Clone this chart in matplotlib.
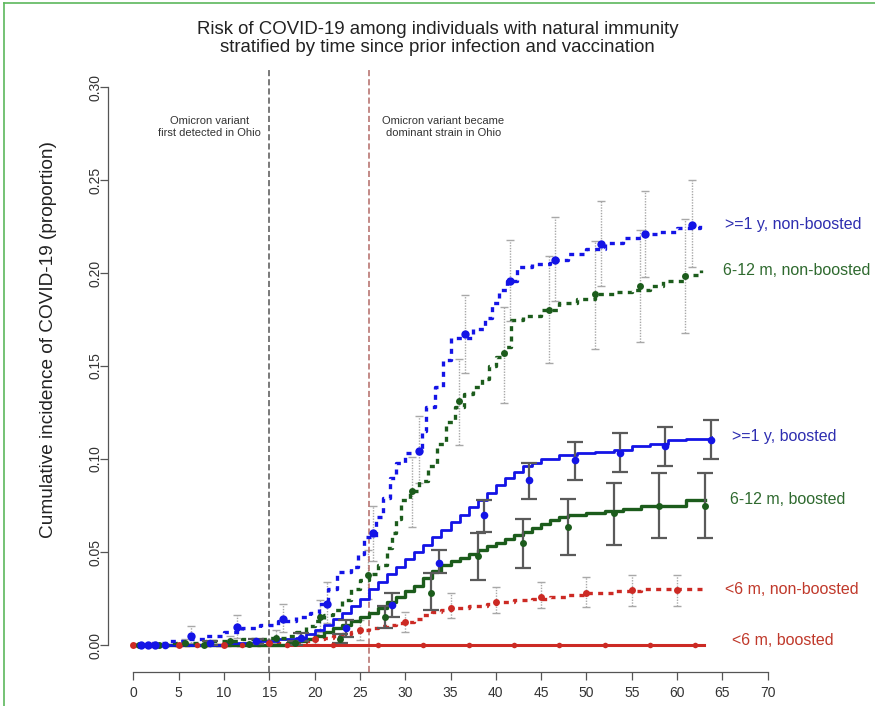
"""
Cumulative incidence of COVID-19 among individuals with natural immunity,
stratified by time since prior infection and booster status.
"""

import matplotlib
matplotlib.use('Agg')
import matplotlib.pyplot as plt
from matplotlib.lines import Line2D

plt.rcParams['font.family'] = ['Liberation Sans', 'DejaVu Sans']

# ---------------------------------------------------------------------------
# Data (x = days, y = cumulative proportion)
# ---------------------------------------------------------------------------

# >=1 y, non-boosted (blue, dotted)
bnb_step_x = [0, 2, 4, 6, 8, 10, 12, 14, 16, 18, 19.5, 20.5, 21.5, 22.5, 24, 24.8, 25.5, 26.8,
              27.5, 28.3, 29, 30, 31.8, 32.3, 33.3, 34.2, 35, 37.5, 38.8, 39.6, 40.3, 41.2,
              42.3, 44, 46, 48, 50, 52, 54, 56, 58, 60, 62.5]
bnb_step_y = [0, 0.001, 0.002, 0.003, 0.005, 0.007, 0.009, 0.011, 0.013, 0.015, 0.017, 0.022,
              0.030, 0.039, 0.042, 0.049, 0.058, 0.069, 0.079, 0.090, 0.098, 0.103, 0.115,
              0.128, 0.139, 0.153, 0.165, 0.170, 0.176, 0.184, 0.191, 0.196, 0.203, 0.205,
              0.207, 0.210, 0.213, 0.216, 0.219, 0.221, 0.222, 0.224, 0.226]
bnb_pt_x = [0.8, 1.6, 2.4, 6.4, 11.4, 16.5, 21.4, 26.5, 31.5, 36.6, 41.6, 46.5, 51.6, 56.5, 61.6]
bnb_pt_y = [0, 0, 0, 0.005, 0.0095, 0.014, 0.022, 0.060, 0.1045, 0.167, 0.196, 0.207, 0.2156,
            0.2208, 0.226]
bnb_lo = [0, 0, 0, 0.001, 0.004, 0.007, 0.012, 0.045, 0.087, 0.146, 0.174, 0.185, 0.193,
          0.198, 0.203]
bnb_hi = [0, 0, 0, 0.010, 0.016, 0.022, 0.034, 0.075, 0.123, 0.188, 0.218, 0.230, 0.239,
          0.244, 0.250]

# 6-12 m, non-boosted (green, dotted)
gnb_step_x = [0, 4, 8, 12, 15, 17, 18, 19, 20, 21, 22, 23, 24, 25, 26, 27, 28, 28.5, 29, 29.5,
              30.5, 31.5, 32.5, 33.5, 34.5, 35.5, 36.5, 37.5, 38.5, 39.3, 40, 41, 41.7, 43,
              45, 47, 49, 51, 53, 55, 57, 58.5, 61, 62.7]
gnb_step_y = [0, 0.001, 0.002, 0.003, 0.004, 0.005, 0.007, 0.010, 0.013, 0.016, 0.019, 0.024,
              0.030, 0.035, 0.038, 0.043, 0.052, 0.060, 0.068, 0.078, 0.083, 0.088, 0.096,
              0.108, 0.120, 0.128, 0.135, 0.139, 0.143, 0.150, 0.155, 0.160, 0.175, 0.177,
              0.180, 0.184, 0.186, 0.189, 0.190, 0.191, 0.193, 0.196, 0.199, 0.2016]
gnb_pt_x = [0.6, 5.7, 10.7, 15.7, 20.6, 25.9, 30.8, 35.9, 40.9, 45.9, 50.9, 55.9, 60.9]
gnb_pt_y = [0, 0.001, 0.002, 0.004, 0.015, 0.0376, 0.0828, 0.131, 0.157, 0.180, 0.1886,
            0.193, 0.1986]
gnb_lo = [0, 0, 0, 0.001, 0.007, 0.025, 0.0636, 0.1075, 0.130, 0.1514, 0.159, 0.163, 0.168]
gnb_hi = [0, 0.003, 0.005, 0.008, 0.024, 0.051, 0.1013, 0.154, 0.182, 0.209, 0.217, 0.223, 0.229]

# >=1 y, boosted (blue, solid)
bb_step_x = [0, 10, 14, 16, 18, 19, 20, 21, 22, 23, 24, 25, 26, 27, 28, 29, 30, 31, 32, 33,
             34, 35, 36, 37, 38, 39, 40, 41, 42, 43, 44, 45, 47, 49, 51, 53, 55, 57, 59, 61,
             63.7]
bb_step_y = [0, 0.001, 0.002, 0.003, 0.004, 0.006, 0.008, 0.011, 0.014, 0.017, 0.021, 0.025,
             0.030, 0.034, 0.038, 0.042, 0.046, 0.050, 0.054, 0.058, 0.062, 0.066, 0.070,
             0.074, 0.078, 0.082, 0.086, 0.090, 0.093, 0.096, 0.098, 0.100, 0.102, 0.103,
             0.104, 0.105, 0.107, 0.108, 0.110, 0.111, 0.112]
bb_pt_x = [3.5, 8.5, 13.5, 18.5, 23.5, 28.5, 33.7, 38.7, 43.7, 48.7, 53.7, 58.7, 63.7]
bb_pt_y = [0, 0.001, 0.002, 0.004, 0.009, 0.0215, 0.0443, 0.070, 0.0887, 0.0995, 0.1034,
           0.107, 0.1105]
bb_lo = [0, 0, 0.0005, 0.002, 0.0045, 0.015, 0.0385, 0.061, 0.0785, 0.089, 0.0928, 0.0962,
         0.0998]
bb_hi = [0, 0.002, 0.0035, 0.0065, 0.0134, 0.028, 0.051, 0.078, 0.0977, 0.1093, 0.1138,
         0.117, 0.121]

# 6-12 m, boosted (green, solid)
gb_step_x = [0, 17, 18, 19, 20, 21, 22, 23, 24, 25, 26, 27, 28, 29, 30, 31, 32, 33, 34, 35,
             36, 37, 38, 39, 40, 41, 42, 43, 44, 45, 46, 47, 48, 50, 52, 54, 56, 61, 63.1]
gb_step_y = [0, 0.001, 0.002, 0.003, 0.005, 0.007, 0.009, 0.011, 0.013, 0.015, 0.017, 0.020,
             0.023, 0.026, 0.029, 0.032, 0.036, 0.040, 0.043, 0.045, 0.047, 0.049, 0.051,
             0.053, 0.055, 0.057, 0.059, 0.061, 0.063, 0.065, 0.067, 0.069, 0.070, 0.071,
             0.072, 0.073, 0.0745, 0.078, 0.078]
gb_pt_x = [2.8, 7.8, 12.8, 17.8, 22.8, 27.8, 32.9, 38.0, 43.0, 48.0, 53.0, 58.0, 63.1]
gb_pt_y = [0, 0, 0.0005, 0.001, 0.003, 0.015, 0.0278, 0.0478, 0.0547, 0.0637, 0.0708,
           0.0747, 0.0747]
gb_lo = [0, 0, 0, 0, 0.001, 0.009, 0.0188, 0.035, 0.0412, 0.0484, 0.0538, 0.0577, 0.0577]
gb_hi = [0, 0, 0.001, 0.002, 0.006, 0.021, 0.0389, 0.060, 0.068, 0.0785, 0.087, 0.0927, 0.0927]

# <6 m, non-boosted (red, dotted)
rnb_step_x = [0, 14, 16, 18, 19, 20, 21, 22, 23, 24, 25, 26, 27, 28, 29, 30, 31, 32, 33, 34,
              35, 37, 39, 40, 42, 44, 46, 48, 50, 53, 56, 63]
rnb_step_y = [0, 0.0005, 0.001, 0.0015, 0.002, 0.003, 0.004, 0.005, 0.006, 0.007, 0.008,
              0.009, 0.010, 0.011, 0.012, 0.0125, 0.014, 0.016, 0.018, 0.019, 0.020, 0.021,
              0.022, 0.0233, 0.024, 0.025, 0.026, 0.027, 0.028, 0.029, 0.030, 0.030]
rnb_pt_x = [0, 5, 10, 15, 20, 25, 30, 35, 40, 45, 50, 55, 60]
rnb_pt_y = [0, 0, 0, 0.001, 0.003, 0.008, 0.0125, 0.020, 0.0233, 0.026, 0.028, 0.0296, 0.0296]
rnb_lo = [0, 0, 0, 0, 0.0005, 0.0027, 0.007, 0.0143, 0.0174, 0.0197, 0.0206, 0.021, 0.021]
rnb_hi = [0, 0.001, 0.001, 0.003, 0.006, 0.0134, 0.018, 0.0278, 0.031, 0.034, 0.0367,
          0.0376, 0.0376]

# <6 m, boosted (red, solid) - no events
rb_step_x = [0, 63]
rb_step_y = [0, 0]
rb_pt_x = [2, 7, 12, 17, 22, 27, 32, 37, 42, 47, 52, 57, 62]
rb_pt_y = [0, 0, 0, 0, 0, 0, 0, 0, 0, 0, 0, 0, 0]

series_labels = ['>=1 y, non-boosted', '6-12 m, non-boosted', '>=1 y, boosted',
                 '6-12 m, boosted', '<6 m, non-boosted', '<6 m, boosted']

x_ticks = list(range(0, 75, 5))
y_ticks = [0.00, 0.05, 0.10, 0.15, 0.20, 0.25, 0.30]

omicron_first_day = 15
omicron_dominant_day = 26

BLUE = '#1414e6'
GREEN = '#1c5c1c'
RED = '#cc2a24'


def draw_bars(ax, x, lo, hi, boosted):
    """Confidence interval whiskers: solid grey for boosted, dotted light grey otherwise"""
    keep = [i for i in range(len(x)) if hi[i] - lo[i] > 0.0015]
    bx = [x[i] for i in keep]
    mid = [(lo[i] + hi[i]) / 2 for i in keep]
    err = [[(hi[i] - lo[i]) / 2 for i in keep], [(hi[i] - lo[i]) / 2 for i in keep]]
    if boosted:
        eb = ax.errorbar(bx, mid, yerr=err, fmt='none', ecolor='#5a5a5a', elinewidth=1.6,
                         capsize=6, capthick=1.6, zorder=4)
    else:
        eb = ax.errorbar(bx, mid, yerr=err, fmt='none', ecolor='#a8a8a8', elinewidth=1.0,
                         capsize=3, capthick=1.0, zorder=1)
        eb[2][0].set_linestyle((0, (1, 1)))


def draw_curve(ax, sx, sy, px, py, color, dotted, lw=2.2, ms=5):
    if dotted:
        ax.plot(sx, sy, drawstyle='steps-post', color=color, lw=lw,
                linestyle=(0, (1.5, 1.6)), dash_capstyle='butt', zorder=3)
    else:
        ax.plot(sx, sy, drawstyle='steps-post', color=color, lw=lw, zorder=3)
    ax.plot(px, py, 'o', color=color, ms=ms, zorder=5, markeredgewidth=0)


def main():
    fig = plt.figure(figsize=(8.75, 7.06), dpi=100)
    W, H = 875, 706
    ax = fig.add_axes([108 / W, 1 - 672 / H, (793 - 108) / W, (672 - 67) / H])

    # error bars first so that they sit behind the curves
    draw_bars(ax, bnb_pt_x, bnb_lo, bnb_hi, False)
    draw_bars(ax, gnb_pt_x, gnb_lo, gnb_hi, False)
    draw_bars(ax, rnb_pt_x, rnb_lo, rnb_hi, False)

    draw_curve(ax, rb_step_x, rb_step_y, rb_pt_x, rb_pt_y, RED, False, lw=2.2, ms=4)
    draw_curve(ax, rnb_step_x, rnb_step_y, rnb_pt_x, rnb_pt_y, RED, True, lw=2.4, ms=5)
    draw_curve(ax, gb_step_x, gb_step_y, gb_pt_x, gb_pt_y, GREEN, False, lw=2.4, ms=5)
    draw_curve(ax, bb_step_x, bb_step_y, bb_pt_x, bb_pt_y, BLUE, False, lw=2.0, ms=5.5)
    draw_curve(ax, gnb_step_x, gnb_step_y, gnb_pt_x, gnb_pt_y, GREEN, True, lw=2.4, ms=5)
    draw_curve(ax, bnb_step_x, bnb_step_y, bnb_pt_x, bnb_pt_y, BLUE, True, lw=2.4, ms=6)

    draw_bars(ax, bb_pt_x, bb_lo, bb_hi, True)
    draw_bars(ax, gb_pt_x, gb_lo, gb_hi, True)

    # Omicron milestones
    ax.axvline(omicron_first_day, color='#555555', lw=1.1, linestyle=(0, (4, 2)), zorder=2)
    ax.axvline(omicron_dominant_day, color='#b36a66', lw=1.1, linestyle=(0, (4, 2)), zorder=2)
    note_font = ['Liberation Sans Narrow', 'Liberation Sans', 'DejaVu Sans']
    ax.text(8.4, 0.2785, 'Omicron variant\nfirst detected in Ohio', ha='center', va='center',
            fontsize=8, color='#333333', family=note_font, linespacing=1.25)
    ax.text(34.2, 0.2785, 'Omicron variant became\ndominant strain in Ohio', ha='center',
            va='center', fontsize=8, color='#333333', family=note_font, linespacing=1.25)

    # series labels at the right end of each curve
    label_pos = [(65.3, bnb_step_y[-1]), (65.05, gnb_step_y[-1]), (66.1, bb_step_y[-1]),
                 (65.8, gb_step_y[-1]), (65.3, rnb_step_y[-1]), (66.1, 0.0027)]
    label_colors = ['#2e2eb0', '#2f6a2f', '#2e2eb0', '#2f6a2f', '#c0392b', '#c0392b']
    for text, (lx, ly), c in zip(series_labels, label_pos, label_colors):
        ax.text(lx, ly, text, color=c, fontsize=11.5, va='center', ha='left', clip_on=False)

    # R-style axes: spines limited to the tick range
    ax.set_xlim(-2.8, 72.8)
    ax.set_ylim(-0.0145, 0.3108)
    for side in ['top', 'right']:
        ax.spines[side].set_visible(False)
    ax.spines['left'].set_bounds(0, 0.30)
    ax.spines['bottom'].set_bounds(0, 70)
    for side in ['left', 'bottom']:
        ax.spines[side].set_color('#555555')
        ax.spines[side].set_linewidth(0.9)
    ax.set_xticks(x_ticks)
    ax.set_xticklabels([str(t) for t in x_ticks])
    ax.set_yticks(y_ticks)
    ax.set_yticklabels([f'{t:.2f}' for t in y_ticks], rotation=90, va='center')
    ax.tick_params(axis='both', length=6, width=0.9, color='#555555', labelsize=10,
                   labelcolor='#333333')
    ax.tick_params(axis='x', pad=4)
    ax.tick_params(axis='y', pad=-2)

    ax.set_ylabel('Cumulative incidence of COVID-19 (proportion)', fontsize=13.7,
                  color='#222222')
    ax.yaxis.set_label_coords(-0.074, 0.55)

    fig.text(0.5, 1 - 30 / H, 'Risk of COVID-19 among individuals with natural immunity',
             ha='center', va='center', fontsize=13.4, color='#222222')
    fig.text(0.5, 1 - 48 / H, 'stratified by time since prior infection and vaccination',
             ha='center', va='center', fontsize=13.4, color='#222222')

    # thin green frame of the source image
    fig.add_artist(Line2D([4 / W, 4 / W], [0, 1 - 3 / H], color='#5cb85c', lw=1.2,
                          transform=fig.transFigure))
    fig.add_artist(Line2D([4 / W, 1], [1 - 3 / H, 1 - 3 / H], color='#5cb85c', lw=1.2,
                          transform=fig.transFigure))

    fig.savefig('out.png', dpi=100, facecolor='white')


if __name__ == "__main__":
    main()
